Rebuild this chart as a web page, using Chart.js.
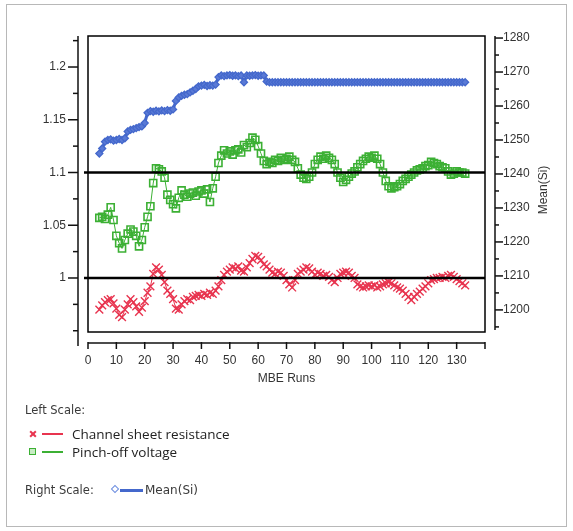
<!DOCTYPE html>
<html>
<head>
<meta charset="utf-8">
<script src="https://cdn.jsdelivr.net/npm/chart.js@4"></script>
<style>
  html, body { margin: 0; padding: 0; background: #fff; }
  #wrap { position: relative; width: 573px; height: 531px; overflow: hidden; background: #fff; }
  #border { position: absolute; left: 6px; top: 4px; width: 561px; height: 523px; border: 1px solid #b8b8b8; box-sizing: border-box; }
  canvas { position: absolute; left: 0; top: 0; }
  .hdr { position: absolute; font: 11.5px "DejaVu Sans", sans-serif; color: #3a3a3a; line-height: 14px; white-space: nowrap; }
  .item { position: absolute; font: 13.5px "Open Sans", sans-serif; color: #222; line-height: 16px; white-space: nowrap; }
  .ln { position: absolute; height: 2px; }
  .sq { position: absolute; width: 5px; height: 5px; border: 1.5px solid #3cb034; background: #c8ecc4; }
  .dm { position: absolute; width: 4px; height: 4px; border: 1.5px solid #6d8ee0; transform: rotate(45deg); background: #fff; }
  .xk { position: absolute; width: 8px; height: 2px; background: #e8344f; }
</style>
</head>
<body>
<div id="wrap">
  <div id="border"></div>
  <canvas id="c" width="573" height="531"></canvas>

  <div class="hdr" style="left:25px; top:403px;">Left Scale:</div>

  <div class="xk" style="left:29px; top:433px; transform:rotate(45deg);"></div>
  <div class="xk" style="left:29px; top:433px; transform:rotate(-45deg);"></div>
  <div class="ln" style="left:42px; top:433px; width:21px; background:#e8344f;"></div>
  <div class="item" style="left:72px; top:426px;">Channel sheet resistance</div>

  <div class="sq" style="left:29px; top:448px;"></div>
  <div class="ln" style="left:42px; top:451px; width:21px; background:#3cb034;"></div>
  <div class="item" style="left:72px; top:444px;">Pinch-off voltage</div>

  <div class="hdr" style="left:25px; top:483px;">Right Scale:</div>
  <div class="dm" style="left:112px; top:486px;"></div>
  <div class="ln" style="left:120px; top:489px; width:23px; height:3px; background:#4468cc;"></div>
  <div class="hdr" style="left:145px; top:483px; font-size:12px;">Mean(Si)</div>
</div>

<script>
// MBE run numbers
const runs = [
  4, 5, 6, 7, 8, 9, 10, 11, 12, 13,
  14, 15, 16, 17, 18, 19, 20, 21, 22, 23,
  24, 25, 26, 27, 28, 29, 30, 31, 32, 33,
  34, 35, 36, 37, 38, 39, 40, 41, 42, 43,
  44, 45, 46, 47, 48, 49, 50, 51, 52, 53,
  54, 55, 56, 57, 58, 59, 60, 61, 62, 63,
  64, 65, 66, 67, 68, 69, 70, 71, 72, 73,
  74, 75, 76, 77, 78, 79, 80, 81, 82, 83,
  84, 85, 86, 87, 88, 89, 90, 91, 92, 93,
  94, 95, 96, 97, 98, 99, 100, 101, 102, 103,
  104, 105, 106, 107, 108, 109, 110, 111, 112, 113,
  114, 115, 116, 117, 118, 119, 120, 121, 122, 123,
  124, 125, 126, 127, 128, 129, 130, 131, 132, 133
];

// Left scale: normalised channel sheet resistance
const sheetResistance = [
  0.970, 0.974, 0.977, 0.979, 0.980, 0.976, 0.971, 0.965, 0.963, 0.970,
  0.975, 0.980, 0.977, 0.973, 0.968, 0.972, 0.978, 0.986, 0.992, 1.004,
  1.010, 1.008, 1.003, 0.996, 0.988, 0.985, 0.980, 0.971, 0.970, 0.975,
  0.978, 0.980, 0.979, 0.982, 0.983, 0.984, 0.983, 0.985, 0.984, 0.986,
  0.985, 0.988, 0.992, 0.998, 1.003, 1.006, 1.008, 1.010, 1.009, 1.011,
  1.007, 1.006, 1.010, 1.014, 1.018, 1.021, 1.020, 1.017, 1.013, 1.011,
  1.008, 1.005, 1.004, 1.006, 1.005, 1.002, 0.998, 0.994, 0.991, 0.998,
  1.004, 1.006, 1.008, 1.010, 1.009, 1.006, 1.003, 1.005, 1.004, 1.002,
  1.003, 1.001, 0.998, 0.996, 1.000, 1.004, 1.005, 1.006, 1.005, 1.002,
  1.000, 0.994, 0.992, 0.991, 0.992, 0.993, 0.992, 0.993, 0.991, 0.992,
  0.994, 0.995, 0.996, 0.995, 0.993, 0.991, 0.990, 0.988, 0.985, 0.982,
  0.979, 0.982, 0.985, 0.987, 0.990, 0.992, 0.995, 0.998, 0.999, 1.000,
  1.000, 1.001, 1.000, 1.002, 1.003, 1.001, 0.999, 0.997, 0.995, 0.993
];

// Left scale: normalised pinch-off voltage
const pinchOff = [
  1.057, 1.058, 1.056, 1.060, 1.067, 1.055, 1.040, 1.033, 1.028, 1.036,
  1.042, 1.046, 1.044, 1.040, 1.030, 1.036, 1.048, 1.058, 1.068, 1.090,
  1.104, 1.103, 1.101, 1.095, 1.079, 1.074, 1.070, 1.066, 1.076, 1.083,
  1.079, 1.077, 1.080, 1.081, 1.078, 1.082, 1.083, 1.080, 1.084, 1.072,
  1.085, 1.096, 1.109, 1.116, 1.121, 1.118, 1.120, 1.117, 1.121, 1.122,
  1.119, 1.126, 1.124, 1.128, 1.133, 1.131, 1.125, 1.118, 1.111, 1.108,
  1.110, 1.109, 1.112, 1.111, 1.114, 1.112, 1.113, 1.115, 1.112, 1.110,
  1.104, 1.098, 1.095, 1.094, 1.096, 1.100, 1.108, 1.112, 1.115, 1.113,
  1.116, 1.114, 1.112, 1.108, 1.100, 1.095, 1.091, 1.093, 1.096, 1.099,
  1.101, 1.105, 1.108, 1.111, 1.113, 1.115, 1.114, 1.116, 1.113, 1.108,
  1.100, 1.092, 1.087, 1.085, 1.086, 1.087, 1.089, 1.092, 1.094, 1.096,
  1.098, 1.100, 1.102, 1.103, 1.104, 1.106, 1.107, 1.110, 1.109, 1.108,
  1.106, 1.105, 1.104, 1.101, 1.098, 1.099, 1.101, 1.100, 1.100, 1.099
];

// Right scale: mean Si cell setting
const meanSi = [
  1246, 1247.5, 1249.5, 1250, 1250.2, 1249.8, 1250, 1250.3, 1250, 1250.5,
  1252.5, 1253, 1253.2, 1253.5, 1253.8, 1254, 1255, 1258, 1258.5, 1258.3,
  1258.6, 1258.4, 1258.7, 1258.5, 1258.8, 1258.6, 1259, 1261.5, 1262.5, 1263,
  1263.3, 1263.5, 1264, 1264.5, 1265, 1265.8, 1266, 1266.2, 1265.9, 1266.1,
  1266, 1266.3, 1268.5, 1269, 1268.8, 1269, 1269.1, 1268.9, 1269, 1268.8,
  1269, 1267, 1269, 1268.9, 1269, 1269.1, 1268.9, 1269, 1269, 1267.2,
  1267, 1267, 1267, 1267, 1267, 1267, 1267, 1267, 1267, 1267,
  1267, 1267, 1267, 1267, 1267, 1267, 1267, 1267, 1267, 1267,
  1267, 1267, 1267, 1267, 1267, 1267, 1267, 1267, 1267, 1267,
  1267, 1267, 1267, 1267, 1267, 1267, 1267, 1267, 1267, 1267,
  1267, 1267, 1267, 1267, 1267, 1267, 1267, 1267, 1267, 1267,
  1267, 1267, 1267, 1267, 1267, 1267, 1267, 1267, 1267, 1267,
  1267, 1267, 1267, 1267, 1267, 1267, 1267, 1267, 1267, 1267
];

// Axis ticks and reference lines
const xTicks = [0, 10, 20, 30, 40, 50, 60, 70, 80, 90, 100, 110, 120, 130];
const leftTicks = [1, 1.05, 1.1, 1.15, 1.2];
const leftMinor = [0.95, 0.975, 1.025, 1.075, 1.125, 1.175, 1.225];
const rightTicks = [1200, 1210, 1220, 1230, 1240, 1250, 1260, 1270, 1280];
const rightMinor = [1195, 1205, 1215, 1225, 1235, 1245, 1255, 1265, 1275];
const refLines = [1.0, 1.1];

const RED = '#e8344f', GREEN = '#3cb034', BLUE = '#4468cc';
const tickFont = { family: '"Liberation Sans", Arial, sans-serif', size: 12 };
const tickColor = '#333';

const pts = vals => runs.map((r, i) => ({ x: r, y: vals[i] }));

// Axes are drawn detached from the plot frame, JMP style
const offsetAxes = {
  id: 'offsetAxes',
  afterDatasetsDraw(chart) {
    const { ctx, chartArea: a, scales } = chart;
    const seg = (x1, y1, x2, y2) => { ctx.beginPath(); ctx.moveTo(x1, y1); ctx.lineTo(x2, y2); ctx.stroke(); };
    ctx.save();
    ctx.strokeStyle = '#000';

    // horizontal reference lines
    ctx.lineWidth = 2.5;
    refLines.forEach(v => { const y = scales.y.getPixelForValue(v); seg(a.left - 4, y, a.right, y); });

    // plot frame
    ctx.lineWidth = 1.5;
    ctx.strokeRect(a.left, a.top, a.right - a.left, a.bottom - a.top);

    ctx.strokeStyle = '#111';
    // left axis
    const lx = a.left - 10;
    seg(lx, a.top, lx, a.bottom + 14);
    leftTicks.forEach(v => { const y = scales.y.getPixelForValue(v); seg(lx - 10, y, lx, y); });
    leftMinor.forEach(v => { const y = scales.y.getPixelForValue(v); seg(lx - 5, y, lx, y); });

    // right axis
    const rx = a.right + 10;
    seg(rx, a.top, rx, a.bottom - 2);
    rightTicks.forEach(v => { const y = scales.y2.getPixelForValue(v); seg(rx, y, rx + 8, y); });
    rightMinor.forEach(v => { const y = scales.y2.getPixelForValue(v); seg(rx, y, rx + 4, y); });

    // bottom axis
    const by = a.bottom + 11;
    seg(a.left, by, a.right, by);
    xTicks.concat([scales.x.max]).forEach(v => { const x = scales.x.getPixelForValue(v); seg(x, by - 1, x, by + 6); });

    // right axis title, reading upward
    ctx.fillStyle = tickColor;
    ctx.font = '12px "Liberation Sans", Arial, sans-serif';
    ctx.textAlign = 'center';
    ctx.textBaseline = 'middle';
    ctx.translate(a.right + 59, (a.top + a.bottom) / 2 + 6);
    ctx.rotate(-Math.PI / 2);
    ctx.fillText('Mean(Si)', 0, 0);
    ctx.restore();
  }
};

new Chart(document.getElementById('c'), {
  type: 'line',
  data: {
    datasets: [
      {
        label: 'Mean(Si)', yAxisID: 'y2', data: pts(meanSi),
        borderColor: BLUE, borderWidth: 3, pointStyle: 'rectRot', pointRadius: 3.5,
        pointBorderColor: BLUE, pointBackgroundColor: '#5a7ad6', pointBorderWidth: 1.3, tension: 0
      },
      {
        label: 'Pinch-off voltage', yAxisID: 'y', data: pts(pinchOff),
        borderColor: GREEN, borderWidth: 1, pointStyle: 'rect', pointRadius: 5,
        pointBorderColor: GREEN, pointBackgroundColor: 'rgba(255,255,255,0)', pointBorderWidth: 1.6, tension: 0
      },
      {
        label: 'Channel sheet resistance', yAxisID: 'y', data: pts(sheetResistance),
        borderColor: RED, borderWidth: 1, pointStyle: 'crossRot', pointRadius: 5.5,
        pointBorderColor: RED, pointBorderWidth: 1.4, tension: 0
      }
    ]
  },
  options: {
    responsive: false,
    animation: false,
    events: [],
    layout: { padding: { top: 36, left: 0, right: 0, bottom: 145 } },
    plugins: { legend: { display: false }, tooltip: { enabled: false } },
    scales: {
      x: {
        type: 'linear', position: 'bottom', min: 0, max: 140,
        afterBuildTicks: s => { s.ticks = xTicks.map(v => ({ value: v })); },
        afterFit: s => { s.height = 54; },
        grid: { display: false, drawTicks: false },
        border: { display: false },
        ticks: { padding: 21, font: tickFont, color: tickColor, autoSkip: false, maxRotation: 0, callback: v => String(v) },
        title: { display: true, text: 'MBE Runs', padding: 0, font: tickFont, color: tickColor }
      },
      y: {
        type: 'linear', position: 'left', min: 0.9488, max: 1.2294,
        afterBuildTicks: s => { s.ticks = leftTicks.map(v => ({ value: v })); },
        afterFit: s => { s.width = 88; },
        grid: { display: false, drawTicks: false },
        border: { display: false },
        ticks: { padding: 22, font: tickFont, color: tickColor, callback: v => String(v) }
      },
      y2: {
        type: 'linear', position: 'right', min: 1193.5, max: 1280.6,
        afterBuildTicks: s => { s.ticks = rightTicks.map(v => ({ value: v })); },
        afterFit: s => { s.width = 88; },
        grid: { display: false, drawTicks: false },
        border: { display: false },
        ticks: { padding: 18, font: tickFont, color: tickColor, callback: v => String(v) }
      }
    }
  },
  plugins: [offsetAxes]
});
</script>
</body>
</html>
